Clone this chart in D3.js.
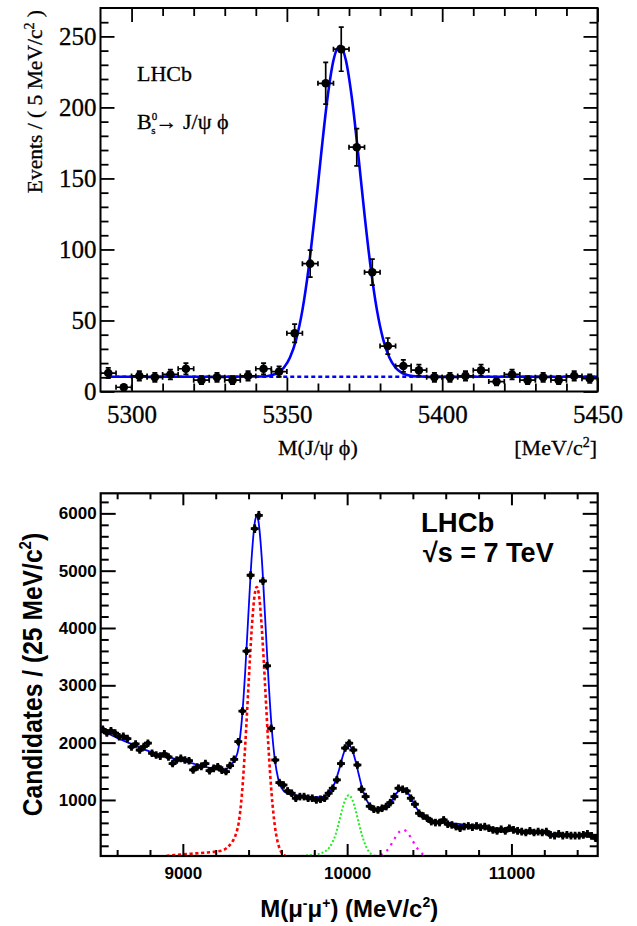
<!DOCTYPE html>
<html>
<head>
<meta charset="utf-8">
<script src="https://cdnjs.cloudflare.com/ajax/libs/d3/7.8.5/d3.min.js"></script>
<style>
  body { margin: 0; background: #fff; }
</style>
</head>
<body>
<svg id="chart" width="637" height="926"></svg>
<script>
// ---------- top panel : Bs -> J/psi phi, 5 MeV bins ----------
var bsMass = [5292.5, 5297.5, 5302.5, 5307.5, 5312.5, 5317.5, 5322.5, 5327.5,
              5332.5, 5337.5, 5342.5, 5347.5, 5352.5, 5357.5, 5362.5, 5367.5,
              5372.5, 5377.5, 5382.5, 5387.5, 5392.5, 5397.5, 5402.5, 5407.5,
              5412.5, 5417.5, 5422.5, 5427.5, 5432.5, 5437.5, 5442.5, 5447.5];
var bsEvents = [13, 3, 11, 10, 12, 16, 8, 10,
                8, 11, 16, 14, 41, 90, 217, 241,
                172, 84, 32, 18, 15, 10, 10, 11,
                15, 7, 12, 8, 10, 8, 11, 9];
// fitted curve (signal + flat background)
var bsFitMass = [5292.5, 5330, 5342, 5345, 5347, 5349, 5351, 5353, 5355, 5357, 5359, 5361, 5363, 5365,
                 5367, 5369, 5371, 5373, 5375, 5377, 5379, 5381, 5383, 5385, 5387, 5389, 5392, 5400, 5450];
var bsFitVal  = [10.4, 10.4, 10.6, 11.5, 13.1, 16.7, 23.9, 36.7, 57.3, 86.9, 124.6, 166.4, 205.4, 233.2,
                 243.4, 233.2, 205.4, 166.4, 124.6, 86.9, 57.3, 36.7, 23.9, 16.7, 13.1, 11.5, 10.6, 10.4, 10.4];
var bsBkgRange = [5292.5, 5450];
var bsBkgLevel = 10.4;
var bsXTicks = [5300, 5350, 5400, 5450];
var bsYTicks = [0, 50, 100, 150, 200, 250];

// ---------- bottom panel : Upsilon -> mu mu, 25 MeV bins from 8500 ----------
var upsCands = [2231, 2170, 2207, 2165, 2103, 2110, 2070, 1925, 1976, 1871,
                1930, 1990, 1814, 1784, 1765, 1805, 1750, 1635, 1697, 1725,
                1697, 1685, 1523, 1575, 1585, 1635, 1510, 1550, 1580, 1520,
                1495, 1600, 1709, 2016, 2550, 3596, 4920, 5733, 5965, 4820,
                3340, 2249, 1697, 1302, 1261, 1157, 1117, 1030, 1058, 1058,
                1030, 1030, 1000, 1012, 1030, 1117, 1204, 1350, 1635, 1905,
                1990, 1871, 1610, 1186, 1058, 890, 838, 826, 855, 884,
                953, 1058, 1204, 1186, 1157, 1030, 925, 768, 721, 681,
                622, 605, 605, 652, 577, 564, 535, 507, 535, 547,
                524, 547, 524, 535, 507, 477, 460, 489, 460, 507,
                477, 460, 448, 431, 460, 431, 448, 431, 448, 390,
                378, 408, 378, 390, 378, 378, 378, 390, 408, 373, 333];
var upsBinLow = 8500, upsBinWidth = 25;

var totMass = [8500, 8600, 8700, 8800, 8900, 9000, 9100, 9200, 9250, 9300, 9320, 9340, 9360, 9380,
               9400, 9420, 9440, 9450, 9460, 9480, 9500, 9520, 9540, 9560, 9580, 9600, 9650, 9700,
               9750, 9800, 9850, 9900, 9950, 9970, 9990, 10010, 10030, 10050, 10070, 10090, 10110,
               10130, 10150, 10170, 10200, 10220, 10240, 10260, 10280, 10300, 10320, 10340, 10360,
               10380, 10400, 10420, 10440, 10460, 10480, 10500, 10550, 10600, 10700, 10800, 10900,
               11000, 11100, 11200, 11300, 11400, 11500];
var totVal  = [2216, 2084, 1960, 1844, 1756, 1683, 1606, 1540, 1529, 1636, 1720, 1923, 2427, 3262,
               4297, 5278, 5877, 5953, 5862, 5232, 4221, 3156, 2285, 1703, 1375, 1214, 1098, 1079,
               1059, 1046, 1053, 1153, 1517, 1732, 1900, 1957, 1879, 1693, 1453, 1223, 1054,
               939, 874, 840, 826, 835, 872, 937, 1024, 1112, 1177, 1196, 1159,
               1077, 971, 867, 782, 721, 683, 660, 631, 610, 574, 540, 508,
               477, 449, 422, 397, 374, 351];

var y1sMass = [8900, 8950, 9000, 9050, 9100, 9150, 9200, 9250, 9280, 9300, 9320, 9330, 9340, 9350,
               9360, 9370, 9380, 9390, 9400, 9410, 9420, 9430, 9440, 9450, 9460, 9470, 9480, 9490,
               9500, 9510, 9520, 9530, 9540, 9550, 9560, 9570, 9580, 9590, 9600, 9610, 9630];
var y1sVal  = [22, 38, 52, 62, 72, 84, 98, 130, 195, 265, 380, 470, 600, 820,
               1120, 1510, 1971, 2485, 3022, 3547, 4018, 4392, 4633, 4716, 4633, 4392, 4018, 3547,
               3022, 2485, 1971, 1509, 1115, 795, 547, 363, 233, 144, 86, 49, 15];

var y2sMass = [9700, 9750, 9800, 9840, 9870, 9890, 9910, 9930, 9950, 9970, 9990, 10010,
               10030, 10050, 10070, 10090, 10110, 10130, 10150, 10170, 10190];
var y2sVal  = [18, 30, 48, 70, 110, 165, 260, 400, 608, 837, 1013, 1080,
               1013, 837, 608, 389, 219, 109, 47, 18, 6];

var y3sMass = [10160, 10180, 10200, 10220, 10240, 10260, 10280, 10300, 10320, 10340,
               10360, 10380, 10400, 10420, 10440, 10460, 10480, 10500];
var y3sVal  = [22, 30, 42, 64, 110, 185, 281, 378, 452, 480,
               452, 378, 281, 185, 109, 56, 26, 11];

var upsXTicks = [9000, 10000, 11000];
var upsYTicks = [1000, 2000, 3000, 4000, 5000, 6000];

// -----------------------------------------------------------------
var svg = d3.select("#chart");
svg.append("rect").attr("width", 637).attr("height", 926).attr("fill", "#fff");

var serif = "'Liberation Serif', 'Times New Roman', serif";
var sans = "'Liberation Sans', Arial, Helvetica, sans-serif";

var xt = d3.scaleLinear().domain([5290, 5450]).range([100.5, 597.5]);
var yt = d3.scaleLinear().domain([0, 270]).range([391.5, 8]);
var xb = d3.scaleLinear().domain([8500, 11525]).range([100.7, 597.7]);
var yb = d3.scaleLinear().domain([22, 6350]).range([856, 493.3]);

function minorTicks(lo, hi, step, skip) {
    return d3.range(lo, hi + 0.001, step).filter(function(v){ return skip.indexOf(v) < 0; });
}

function drawFrame(x, y, o) {
    var x0 = x.range()[0], x1 = x.range()[1];
    var y0 = y.range()[0], y1 = y.range()[1];
    var g = svg.append("g");

    function ax(axis, tr) {
        var a = g.append("g").attr("transform", tr).call(axis);
        a.select(".domain").remove();
        a.selectAll("line").attr("stroke", "#000").attr("stroke-width", o.tickW);
        a.attr("font-family", o.font).attr("font-size", o.fs).attr("font-weight", o.fw);
        a.selectAll("text").attr("fill", "#000")
            .attr("stroke", o.textStroke ? "#000" : null)
            .attr("stroke-width", o.textStroke || null);
        return a;
    }
    var fmt = d3.format("d");
    ax(d3.axisBottom(x).tickValues(o.xMajor).tickSize(-o.xMaj).tickPadding(o.xPad).tickFormat(fmt), "translate(0," + y0 + ")");
    ax(d3.axisBottom(x).tickValues(o.xMinor).tickSize(-o.xMin).tickFormat(""), "translate(0," + y0 + ")");
    ax(d3.axisTop(x).tickValues(o.xMajor).tickSize(-o.xMaj).tickFormat(""), "translate(0," + y1 + ")");
    ax(d3.axisTop(x).tickValues(o.xMinor).tickSize(-o.xMin).tickFormat(""), "translate(0," + y1 + ")");
    ax(d3.axisLeft(y).tickValues(o.yMajor).tickSize(-o.yMaj).tickPadding(o.yPad).tickFormat(fmt), "translate(" + x0 + ",0)");
    ax(d3.axisLeft(y).tickValues(o.yMinor).tickSize(-o.yMin).tickFormat(""), "translate(" + x0 + ",0)");
    ax(d3.axisRight(y).tickValues(o.yMajor).tickSize(-o.yMaj).tickFormat(""), "translate(" + x1 + ",0)");
    ax(d3.axisRight(y).tickValues(o.yMinor).tickSize(-o.yMin).tickFormat(""), "translate(" + x1 + ",0)");

    g.append("rect")
        .attr("x", x0).attr("y", y1)
        .attr("width", x1 - x0).attr("height", y0 - y1)
        .attr("fill", "none").attr("stroke", "#000").attr("stroke-width", o.frameW);
}

function clip(id, x, y) {
    svg.append("clipPath").attr("id", id).append("rect")
        .attr("x", x.range()[0]).attr("y", y.range()[1])
        .attr("width", x.range()[1] - x.range()[0])
        .attr("height", y.range()[0] - y.range()[1]);
}

// serif label helper (slightly heavier, like the ROOT output)
function serifText(x, y, size) {
    return svg.append("text").attr("x", x).attr("y", y)
        .attr("font-family", serif).attr("font-size", size)
        .attr("fill", "#000").attr("stroke", "#000").attr("stroke-width", 0.3);
}

// ================= TOP PANEL =================
clip("clipTop", xt, yt);
var topG = svg.append("g").attr("clip-path", "url(#clipTop)");

topG.append("line")
    .attr("x1", xt(bsBkgRange[0])).attr("x2", xt(bsBkgRange[1]))
    .attr("y1", yt(bsBkgLevel)).attr("y2", yt(bsBkgLevel))
    .attr("stroke", "#0000ff").attr("stroke-width", 2.6)
    .attr("stroke-dasharray", "4,3");

var bsFit = bsFitMass.map(function(m, i){ return [m, bsFitVal[i]]; });
topG.append("path")
    .datum(bsFit)
    .attr("fill", "none").attr("stroke", "#0000ff").attr("stroke-width", 2.6)
    .attr("d", d3.line().x(function(d){ return xt(d[0]); }).y(function(d){ return yt(d[1]); })
        .curve(d3.curveMonotoneX));

var bsPts = topG.selectAll("g.pt").data(bsMass.map(function(m, i){ return {m: m, n: bsEvents[i]}; }))
    .enter().append("g").attr("class", "pt");
bsPts.each(function(d) {
    var g = d3.select(this);
    var cx = xt(d.m), cy = yt(d.n);
    var e = Math.sqrt(d.n);
    var yl = yt(d.n - e), yh = yt(d.n + e);
    var xl = xt(d.m - 2.5), xh = xt(d.m + 2.5);
    var segs = [[cx, yl, cx, yh], [xl, cy, xh, cy],
                [cx - 2.5, yl, cx + 2.5, yl], [cx - 2.5, yh, cx + 2.5, yh],
                [xl, cy - 2.5, xl, cy + 2.5], [xh, cy - 2.5, xh, cy + 2.5]];
    segs.forEach(function(s) {
        g.append("line").attr("x1", s[0]).attr("y1", s[1]).attr("x2", s[2]).attr("y2", s[3])
            .attr("stroke", "#000").attr("stroke-width", 1.7);
    });
    g.append("circle").attr("cx", cx).attr("cy", cy).attr("r", 4.3).attr("fill", "#000");
});

drawFrame(xt, yt, {
    xMajor: bsXTicks, xMinor: minorTicks(5300, 5440, 10, bsXTicks),
    yMajor: bsYTicks, yMinor: minorTicks(10, 260, 10, bsYTicks),
    xMaj: 14, xMin: 8, yMaj: 14, yMin: 8, xPad: 14, yPad: 4,
    tickW: 1.8, frameW: 2, font: serif, fs: 25, fw: "normal", textStroke: 0.3
});

// labels top panel
serifText(137, 81, 22).text("LHCb");

var decay = serifText(137, 129, 22);
decay.append("tspan").text("B");
decay.append("tspan").attr("dy", -9).attr("font-size", 11).text("0");
decay.append("tspan").attr("dx", -6).attr("dy", 14).attr("font-size", 11).text("s");
decay.append("tspan").attr("dy", -5).text("\u2192 J/\u03c8 \u03d5");

var ytl = svg.append("text")
    .attr("transform", "translate(42,10) rotate(-90)")
    .attr("text-anchor", "end")
    .attr("font-family", serif).attr("font-size", 21.5)
    .attr("fill", "#000").attr("stroke", "#000").attr("stroke-width", 0.3);
ytl.append("tspan").text("Events / ( 5 MeV/c");
ytl.append("tspan").attr("dy", -8).attr("font-size", 14).text("2");
ytl.append("tspan").attr("dy", 8).text(" )");

serifText(278, 455, 22).text("M(J/\u03c8 \u03d5)");
var xunit = serifText(597, 455, 22).attr("text-anchor", "end");
xunit.append("tspan").text("[MeV/c");
xunit.append("tspan").attr("dy", -8).attr("font-size", 14).text("2");
xunit.append("tspan").attr("dy", 8).text("]");

// ================= BOTTOM PANEL =================
clip("clipBot", xb, yb);
var botG = svg.append("g").attr("clip-path", "url(#clipBot)");

function curve(mass, val, color, width, dash) {
    var pts = mass.map(function(m, i){ return [m, val[i]]; });
    botG.append("path").datum(pts)
        .attr("fill", "none").attr("stroke", color).attr("stroke-width", width)
        .attr("stroke-dasharray", dash)
        .attr("d", d3.line().x(function(d){ return xb(d[0]); }).y(function(d){ return yb(d[1]); })
            .curve(d3.curveMonotoneX));
}

curve(y1sMass, y1sVal, "#ff0000", 2.6, "3.2,2.6");
curve(y2sMass, y2sVal, "#22ee22", 2.0, "2,2");
curve(y3sMass, y3sVal, "#ff00ff", 2.2, "2.2,5");
curve(totMass, totVal, "#0000ff", 1.8, null);

var upsData = upsCands.map(function(n, i){
    return {m: upsBinLow + upsBinWidth * (i + 0.5), n: n};
});
botG.selectAll("g.up").data(upsData).enter().append("g").attr("class", "up")
    .each(function(d) {
        var g = d3.select(this);
        var cx = xb(d.m), cy = yb(d.n);
        var e = Math.sqrt(d.n);
        var yl = Math.max(yb(d.n - e), cy + 3.8), yh = Math.min(yb(d.n + e), cy - 3.8);
        var hw = Math.max(xb(d.m + upsBinWidth / 2) - cx, 2) + 1.9;
        g.append("line").attr("x1", cx).attr("x2", cx).attr("y1", yl).attr("y2", yh)
            .attr("stroke", "#000").attr("stroke-width", 2.8);
        g.append("line").attr("x1", cx - hw).attr("x2", cx + hw).attr("y1", cy).attr("y2", cy)
            .attr("stroke", "#000").attr("stroke-width", 2.8);
        g.append("circle").attr("cx", cx).attr("cy", cy).attr("r", 2.6).attr("fill", "#000");
    });

drawFrame(xb, yb, {
    xMajor: upsXTicks, xMinor: minorTicks(8600, 11400, 200, upsXTicks),
    yMajor: upsYTicks, yMinor: minorTicks(200, 6200, 200, upsYTicks),
    xMaj: 12, xMin: 6, yMaj: 15, yMin: 8, xPad: 10.5, yPad: 4,
    tickW: 2, frameW: 2.2, font: sans, fs: 17, fw: "bold"
});

svg.append("text").attr("x", 421).attr("y", 532)
    .attr("font-family", sans).attr("font-weight", "bold").attr("font-size", 27.5).text("LHCb");
svg.append("text").attr("x", 423).attr("y", 562)
    .attr("font-family", sans).attr("font-weight", "bold").attr("font-size", 27).text("\u221as = 7 TeV");

// y title: centred on the frame, glyphs a little condensed along the text
var ybl = svg.append("text")
    .attr("transform", "translate(42,674.6) rotate(-90) scale(0.88,1)")
    .attr("text-anchor", "middle")
    .attr("font-family", sans).attr("font-weight", "bold").attr("font-size", 28);
ybl.append("tspan").text("Candidates / (25 MeV/c");
ybl.append("tspan").attr("dy", -11).attr("font-size", 17).text("2");
ybl.append("tspan").attr("dy", 11).text(")");

var xbl = svg.append("text").attr("x", 349.2).attr("y", 917)
    .attr("text-anchor", "middle")
    .attr("font-family", sans).attr("font-weight", "bold").attr("font-size", 24);
xbl.append("tspan").text("M(\u03bc");
xbl.append("tspan").attr("dy", -9).attr("font-size", 14).text("-");
xbl.append("tspan").attr("dy", 9).text("\u03bc");
xbl.append("tspan").attr("dy", -9).attr("font-size", 14).text("+");
xbl.append("tspan").attr("dy", 9).text(") (MeV/c");
xbl.append("tspan").attr("dy", -10).attr("font-size", 14).text("2");
xbl.append("tspan").attr("dy", 10).text(")");
</script>
</body>
</html>
